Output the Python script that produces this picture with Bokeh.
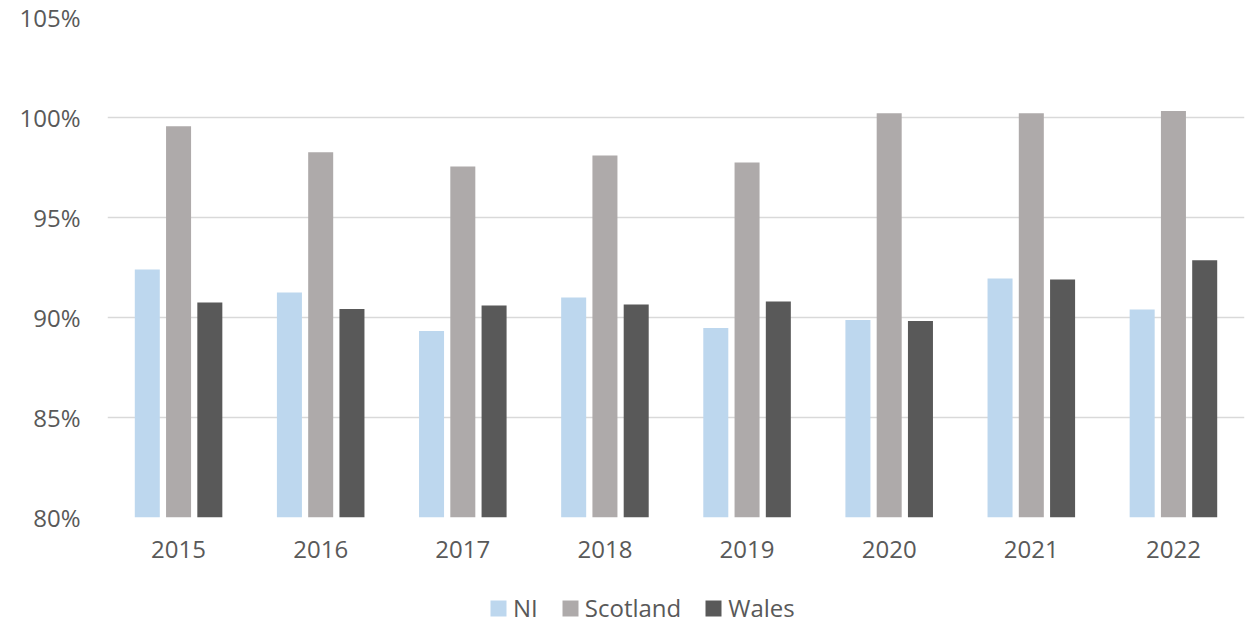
from bokeh.plotting import figure
from bokeh.layouts import column
from bokeh.models import (ColumnDataSource, FactorRange, Range1d, FixedTicker,
                          PrintfTickFormatter, Legend, LegendItem)
from bokeh.transform import dodge
from bokeh.embed import file_html
from bokeh.resources import INLINE

years = ["2015", "2016", "2017", "2018", "2019", "2020", "2021", "2022"]
ni = [92.4, 91.25, 89.33, 91.0, 89.48, 89.87, 91.95, 90.4]
scotland = [99.56, 98.26, 97.55, 98.1, 97.75, 100.21, 100.21, 100.33]
wales = [90.75, 90.42, 90.6, 90.65, 90.8, 89.83, 91.9, 92.86]
y_ticks = [80, 85, 90, 95, 100, 105]

series = ["NI", "Scotland", "Wales"]
colors = ["#BDD7EE", "#AEAAAA", "#595959"]

FONT = "Open Sans"
TEXT = "#595959"
GRID = "#D9D9D9"

source = ColumnDataSource(dict(year=years, ni=ni, scotland=scotland, wales=wales))

p = figure(frame_width=1137, frame_height=500, x_range=FactorRange(*years),
           y_range=Range1d(80, 105), output_backend="svg",
           toolbar_location=None, tools="",
           min_border_left=107, min_border_right=4,
           min_border_top=17, min_border_bottom=58)

p.background_fill_color = "white"
p.border_fill_color = "white"
p.outline_line_color = None

bar_w = 0.176
off = 0.22
for col, dx, c in zip(["ni", "scotland", "wales"], [-off, 0, off], colors):
    p.vbar(x=dodge("year", dx, range=p.x_range), top=col, bottom=80,
           width=bar_w, source=source, fill_color=c, line_color=None)

p.xgrid.grid_line_color = None
p.ygrid.grid_line_color = GRID
p.ygrid.grid_line_width = 1.3
p.ygrid.ticker = FixedTicker(ticks=y_ticks)

p.yaxis.ticker = FixedTicker(ticks=y_ticks)
p.yaxis.formatter = PrintfTickFormatter(format="%d%%")
for ax in (p.xaxis, p.yaxis):
    ax.axis_line_color = None
    ax.major_tick_line_color = None
    ax.minor_tick_line_color = None
    ax.major_tick_out = 0
    ax.major_tick_in = 0
    ax.major_label_text_font = FONT
    ax.major_label_text_font_size = "24px"
    ax.major_label_text_color = TEXT
p.yaxis.major_label_standoff = 27
p.xaxis.major_label_standoff = 23

# strip underneath the chart that carries the series key
key = figure(width=1248, height=48, x_range=Range1d(0, 1248), y_range=Range1d(0, 48),
             output_backend="svg", toolbar_location=None, tools="",
             min_border=0)
key.axis.visible = False
key.grid.visible = False
key.outline_line_color = None
key.background_fill_color = "white"
key.border_fill_color = "white"

items = []
for name, c in zip(series, colors):
    # zero-height swatch source: only the legend glyph is shown
    r = key.vbar(x=[0], top=[0], bottom=[0], width=0, fill_color=c, line_color=None)
    items.append(LegendItem(label=name, renderers=[r]))

# area swatches are inset by 10% of the glyph box, so a 20px box gives 16px squares
legend = Legend(items=items, orientation="horizontal", location=(381, -1),
                glyph_width=20, glyph_height=20, label_standoff=5, spacing=22,
                label_text_font=FONT, label_text_font_size="24px",
                label_text_color=TEXT, border_line_color=None,
                background_fill_alpha=0, padding=0, margin=0)
key.add_layout(legend, "center")

layout = column(p, key, spacing=0)
open("out.html", "w").write(file_html(layout, INLINE))
